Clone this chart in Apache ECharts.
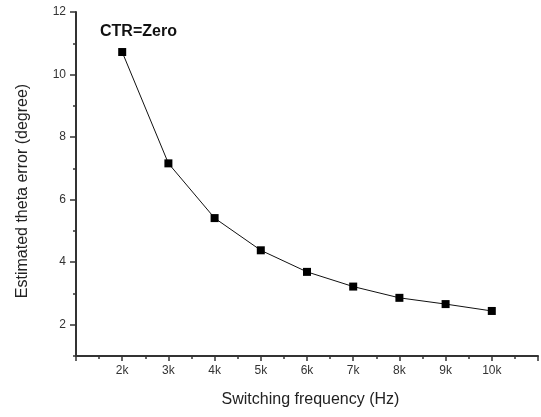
<!DOCTYPE html>
<html>
<head>
<meta charset="utf-8">
<script src="https://cdn.jsdelivr.net/npm/echarts@6/dist/echarts.min.js"></script>
<style>
  html, body { margin: 0; padding: 0; background: #fff; }
  #chart { width: 541px; height: 417px; }
</style>
</head>
<body>
<div id="chart"></div>
<script>
// switching frequency (kHz) and estimated theta error (degree)
const freqs = [2, 3, 4, 5, 6, 7, 8, 9, 10];
const errors = [10.72, 7.16, 5.41, 4.38, 3.69, 3.22, 2.86, 2.66, 2.44];
const yMajor = [2, 4, 6, 8, 10, 12];
const yMinor = [1, 3, 5, 7, 9, 11];

const font = 'Liberation Sans, Arial, sans-serif';
const axisColor = '#333';

const chart = echarts.init(document.getElementById('chart'));
chart.setOption({
  animation: false,
  title: {
    text: 'CTR=Zero',
    left: 95,
    top: 19,
    textStyle: { fontFamily: font, fontSize: 16, fontWeight: 'bold', color: '#111' }
  },
  grid: { left: 76, top: 12, right: 3, bottom: 61 },
  xAxis: {
    type: 'value',
    min: 1, max: 11, interval: 1,
    name: 'Switching frequency (Hz)',
    nameLocation: 'middle',
    nameGap: 36,
    nameTextStyle: { fontFamily: font, fontSize: 16, color: '#222', padding: [0, 0, 0, 7] },
    axisLine: { lineStyle: { color: axisColor, width: 2 } },
    axisTick: { length: 5, lineStyle: { color: axisColor, width: 1.5 } },
    minorTick: { show: true, splitNumber: 2, length: 3, lineStyle: { color: axisColor, width: 1.5 } },
    splitLine: { show: false },
    axisLabel: {
      margin: 9,
      fontFamily: font, fontSize: 12, color: '#333',
      formatter: v => (freqs.indexOf(v) >= 0 ? v + 'k' : '')
    }
  },
  yAxis: [{
    type: 'value',
    min: 1, max: 12,
    name: 'Estimated theta error (degree)',
    nameLocation: 'middle',
    nameGap: 45,
    nameTextStyle: { fontFamily: font, fontSize: 16, color: '#222', padding: [0, 14, 0, 0] },
    axisLine: { show: true, lineStyle: { color: axisColor, width: 2 } },
    axisTick: { show: true, length: 6, customValues: yMajor, lineStyle: { color: axisColor, width: 1.5 } },
    splitLine: { show: false },
    axisLabel: { margin: 10, customValues: yMajor, fontFamily: font, fontSize: 12, color: '#333' }
  }, {
    type: 'value',
    position: 'left',
    min: 1, max: 12,
    axisLine: { show: false },
    axisTick: { show: true, length: 3, customValues: yMinor, lineStyle: { color: axisColor, width: 1.5 } },
    splitLine: { show: false },
    axisLabel: { show: false }
  }],
  series: [{
    type: 'line',
    data: freqs.map((f, i) => [f, errors[i]]),
    symbol: 'rect',
    symbolSize: 8,
    lineStyle: { color: '#111', width: 1 },
    itemStyle: { color: '#000' }
  }]
});
</script>
</body>
</html>
